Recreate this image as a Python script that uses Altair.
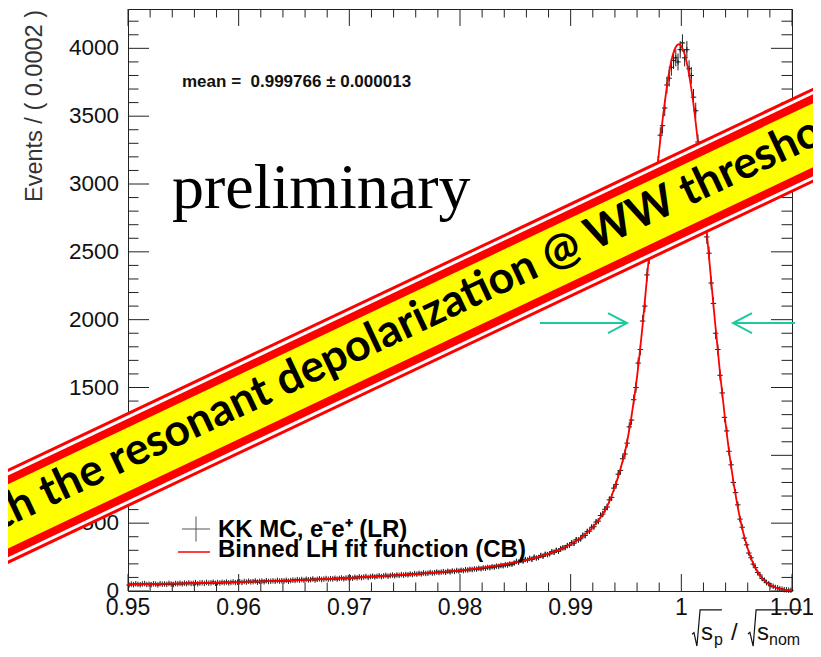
import altair as alt
import pandas as pd

# ---------------- data ----------------
BIN_START = 0.95
BIN_WIDTH = 0.0002
counts = [
    44, 51, 47, 53, 49, 46, 52, 55, 48, 50, 47, 53, 51, 45, 54, 50, 52, 49, 56, 51, 48, 55, 53, 57, 52,
    58, 54, 60, 55, 57, 62, 53, 59, 61, 56, 63, 58, 60, 65, 57, 62, 59, 64, 61, 66, 60, 63, 67, 62, 65,
    68, 63, 70, 66, 72, 67, 69, 74, 65, 71, 73, 68, 76, 70, 72, 75, 71, 78, 73, 76, 74, 79, 72, 77, 80,
    78, 83, 80, 85, 79, 87, 82, 84, 89, 81, 86, 90, 85, 88, 92, 87, 91, 89, 94, 88, 93, 96, 90, 95, 97,
    98, 94, 101, 97, 104, 99, 103, 107, 100, 106, 109, 104, 108, 112, 106, 111, 115, 109, 114, 117, 112, 118, 115, 121, 117,
    122, 119, 125, 121, 128, 124, 130, 126, 133, 129, 131, 137, 132, 135, 140, 136, 139, 143, 138, 146, 141, 148, 144, 151, 147,
    153, 150, 157, 155, 160, 158, 163, 161, 167, 164, 170, 168, 174, 172, 179, 176, 183, 181, 188, 186, 193, 191, 199, 197, 206,
    218, 212, 226, 220, 233, 228, 240, 233, 249, 243, 247, 262, 256, 271, 268, 274, 289, 285, 300, 293, 312, 318, 320, 335, 338,
    356, 352, 378, 376, 385, 410, 409, 438, 441, 470, 474, 508, 515, 556, 567, 602, 619, 672, 690, 758, 786, 861, 889, 975, 1010,
    1090, 1210, 1260, 1410, 1500, 1680, 1780, 1990, 2100, 2330, 2460, 2700, 2810, 3040, 3150, 3360, 3430, 3560, 3730, 3780, 3860, 3910, 3930, 3900, 3990,
    4040, 3930, 3990, 3850, 3800, 3640, 3540, 3310, 3190, 2960, 2830, 2610, 2490, 2270, 2120, 1900, 1780, 1590, 1460, 1280, 1180, 1030, 930, 800, 725,
    635, 530, 470, 390, 340, 280, 245, 198, 172, 137, 118, 92, 80, 61, 54, 40, 35, 26, 23, 16, 14, 10, 9, 6, 5,
]

curve_x = [0.950, 0.955, 0.960, 0.965, 0.970, 0.975, 0.9775, 0.980, 0.9825, 0.985, 0.987, 0.988,
           0.989, 0.990, 0.991, 0.992, 0.993, 0.9935, 0.994, 0.9945, 0.995, 0.9955, 0.996, 0.9965,
           0.997, 0.9975, 0.998, 0.9985, 0.999, 0.9995, 0.99977, 1.000, 1.0005, 1.001, 1.0015, 1.002,
           1.0025, 1.003, 1.0035, 1.004, 1.0045, 1.005, 1.0055, 1.006, 1.0065, 1.007, 1.0075, 1.008,
           1.0085, 1.009, 1.0095, 1.010]
curve_y = [48, 56, 66, 79, 96, 120, 134, 152, 178, 212, 250, 275,
           305, 345, 398, 470, 580, 660, 770, 900, 1060, 1290, 1580, 1960,
           2400, 2830, 3250, 3600, 3870, 4010, 4030, 4016, 3891, 3647, 3306, 2902,
           2463, 2022, 1603, 1233, 918, 662, 462, 311, 202, 127, 78, 46,
           26, 14, 8, 4]

x_major = [0.95, 0.96, 0.97, 0.98, 0.99, 1.00, 1.01]
x_labels = ["0.95", "0.96", "0.97", "0.98", "0.99", "1", "1.01"]
x_minor = [round(0.95 + 0.002 * k, 3) for k in range(1, 30) if k % 5]
y_major = [0, 500, 1000, 1500, 2000, 2500, 3000, 3500, 4000]
y_labels = ["0", "500", "1000", "1500", "2000", "2500", "3000", "3500", "4000"]
y_minor = [100 * k for k in range(1, 43) if k % 5]

y_title = "Events / ( 0.0002 )"
mean_label = "mean =\u00a0 0.999766 \u00b1 0.000013"
prelim_label = "preliminary"
legend_labels = ["KK MC, e\u207be\u207a (LR)", "Binned LH fit function (CB)"]
banner_label = "with the resonant depolarization @ WW threshold"

# annotation anchors (data units)
arrow_l = {"x1": 0.98723, "x2": 0.99509, "y": 1975}
arrow_r = {"x1": 1.01027, "x2": 1.00467, "y": 1975}
banner_line = {"x1": 0.93482, "x2": 1.01614, "y1": 383, "y2": 3523}
banner_txt = {"x": 0.97480, "y": 1950}

# ---------------- styling ----------------
W, H = 664, 582
FONT = "Liberation Sans"
TICK = "#222222"
PT = "#222222"
GREEN = "#1ec99b"

xs = alt.Scale(domain=[0.95, 1.01], nice=False, zero=False)
ys = alt.Scale(domain=[0, 4290], nice=False, zero=False)


def X(f):
    return alt.X(f, scale=xs, axis=None)


def Y(f):
    return alt.Y(f, scale=ys, axis=None)


hist = pd.DataFrame({"i": range(len(counts)), "n": counts})
hist["lo"] = BIN_START + BIN_WIDTH * hist["i"]
hist["hi"] = hist["lo"] + BIN_WIDTH
hist["c"] = hist["lo"] + BIN_WIDTH / 2


def vdf(vals):
    return pd.DataFrame({"v": vals})


layers = []
# ticks, inward on all four sides
for vals, ln in ((y_major, 21), (y_minor, 10.5)):
    layers.append(alt.Chart(vdf(vals)).mark_rule(color=TICK).encode(
        y=Y("v:Q"), x=alt.value(0), x2=alt.value(ln)))
    layers.append(alt.Chart(vdf(vals)).mark_rule(color=TICK).encode(
        y=Y("v:Q"), x=alt.value(W - ln), x2=alt.value(W)))
for vals, ln in ((x_major, 17), (x_minor, 8.5)):
    layers.append(alt.Chart(vdf(vals)).mark_rule(color=TICK).encode(
        x=X("v:Q"), y=alt.value(H), y2=alt.value(H - ln)))
    layers.append(alt.Chart(vdf(vals)).mark_rule(color=TICK).encode(
        x=X("v:Q"), y=alt.value(0), y2=alt.value(ln)))

# tick labels
layers.append(alt.Chart(pd.DataFrame({"v": y_major, "lab": y_labels})).mark_text(
    font=FONT, fontSize=22.5, align="right", baseline="middle", color="#111111").encode(
    y=Y("v:Q"), x=alt.value(-9), text="lab:N"))
layers.append(alt.Chart(pd.DataFrame({"v": x_major, "lab": x_labels})).mark_text(
    font=FONT, fontSize=23, align="center", baseline="top", color="#111111").encode(
    x=X("v:Q"), y=alt.value(H + 6), text="lab:N"))

# histogram: error bars, bin width bars, + markers
layers.append(alt.Chart(hist).transform_calculate(
    elo="datum.n - sqrt(datum.n)", ehi="datum.n + sqrt(datum.n)").mark_rule(
    color=PT, strokeWidth=1).encode(x=X("c:Q"), y=Y("elo:Q"), y2="ehi:Q"))
layers.append(alt.Chart(hist).mark_rule(color=PT, strokeWidth=1).encode(
    x=X("lo:Q"), x2="hi:Q", y=Y("n:Q")))
layers.append(alt.Chart(hist).mark_point(shape="M-1,0L1,0M0,-1L0,1", size=30, filled=False,
                                         color=PT, strokeWidth=1, opacity=1).encode(
    x=X("c:Q"), y=Y("n:Q")))

# fit curve
layers.append(alt.Chart(pd.DataFrame({"x": curve_x, "y": curve_y})).mark_line(
    color="#ff0000", strokeWidth=1.8, interpolate="monotone").encode(x=X("x:Q"), y=Y("y:Q")))


def txt(s, x, y, **kw):
    return alt.Chart(pd.DataFrame({"t": [s]})).mark_text(**kw).encode(
        x=alt.value(x), y=alt.value(y), text="t:N")


def one():
    return alt.Chart(pd.DataFrame({"a": [0]}))


# y axis title
layers.append(txt(y_title, -86, 1, font=FONT, fontSize=23.5, angle=270, align="right",
                  baseline="alphabetic", color="#333333"))

layers.append(txt(mean_label, 54, 78, font=FONT, fontSize=17, fontWeight="bold",
                  align="left", baseline="alphabetic", color="#111111"))
layers.append(txt(prelim_label, 44, 199, font="Liberation Serif", fontSize=64,
                  align="left", baseline="alphabetic", color="#000000"))
# legend
layers.append(one().mark_point(
    shape="M-1,0L1,0M0,-0.9L0,0.9", size=784, filled=False, color="#555555",
    strokeWidth=1, opacity=1).encode(x=alt.value(68), y=alt.value(520)))
layers.append(one().mark_rule(color="#ff0000", strokeWidth=1.5).encode(
    x=alt.value(50), x2=alt.value(82), y=alt.value(543)))
layers.append(txt(legend_labels[0], 90, 528, font=FONT, fontSize=24, fontWeight="bold",
                  align="left", baseline="alphabetic", color="#000000"))
layers.append(txt(legend_labels[1], 90, 548, font=FONT, fontSize=24, fontWeight="bold",
                  align="left", baseline="alphabetic", color="#000000"))

# arrows
for a, head in ((arrow_l, "M-1.9,-1L0,0L-1.9,1"), (arrow_r, "M1.9,-1L0,0L1.9,1")):
    d = pd.DataFrame([a])
    layers.append(alt.Chart(d).mark_rule(color=GREEN, strokeWidth=2).encode(
        x=X("x1:Q"), x2="x2:Q", y=Y("y:Q")))
    layers.append(alt.Chart(d).mark_point(shape=head, size=400, filled=False, color=GREEN,
                                          strokeWidth=2, opacity=1).encode(
        x=X("x2:Q"), y=Y("y:Q")))

# banner
bd = pd.DataFrame([banner_line])
for col, w in (("#ff0000", 86), ("#ffffff", 80), ("#ff0000", 74), ("#ffff00", 58)):
    layers.append(alt.Chart(bd).mark_rule(color=col, strokeWidth=w, strokeCap="butt").encode(
        x=X("x1:Q"), x2="x2:Q", y=Y("y1:Q"), y2="y2:Q"))
layers.append(alt.Chart(pd.DataFrame([dict(banner_txt, t=banner_label)])).mark_text(
    font="Lato", fontWeight="bold", fontSize=44.5, angle=334.8, align="center",
    baseline="middle", color="#000000").encode(x=X("x:Q"), y=Y("y:Q"), text="t:N"))

# x axis title  sqrt(s_p) / sqrt(s_nom)
xt = dict(font=FONT, align="left", baseline="alphabetic", color="#111111")
layers.append(one().mark_point(shape="M-0.71,0.3L-0.62,0.22L-0.48,0.86L-0.33,-0.86L0.71,-0.86",
                               size=1764, filled=False, color="#111111", strokeWidth=1.2,
                               opacity=1).encode(x=alt.value(579), y=alt.value(619)))
layers.append(one().mark_point(shape="M-1,0.22L-0.93,0.16L-0.81,0.67L-0.70,-0.67L1,-0.67",
                               size=2916, filled=False, color="#111111", strokeWidth=1.2,
                               opacity=1).encode(x=alt.value(647), y=alt.value(619)))
layers.append(txt("s", 573, 631, fontSize=24, **xt))
layers.append(txt("p", 586, 636, fontSize=16, **xt))
layers.append(txt("/", 603, 631, fontSize=24, **xt))
layers.append(txt("s", 629, 631, fontSize=24, **xt))
layers.append(txt("nom", 641, 636, fontSize=16, **xt))

chart = alt.layer(*layers).properties(
    width=W, height=H,
    padding={"left": 120, "top": 1, "right": 21, "bottom": 57},
    autosize=alt.AutoSizeParams(type="none"),
    background="white",
).configure_view(stroke="#222222", strokeWidth=1)

chart.save("out.html", embed_options={"renderer": "svg", "actions": False})
